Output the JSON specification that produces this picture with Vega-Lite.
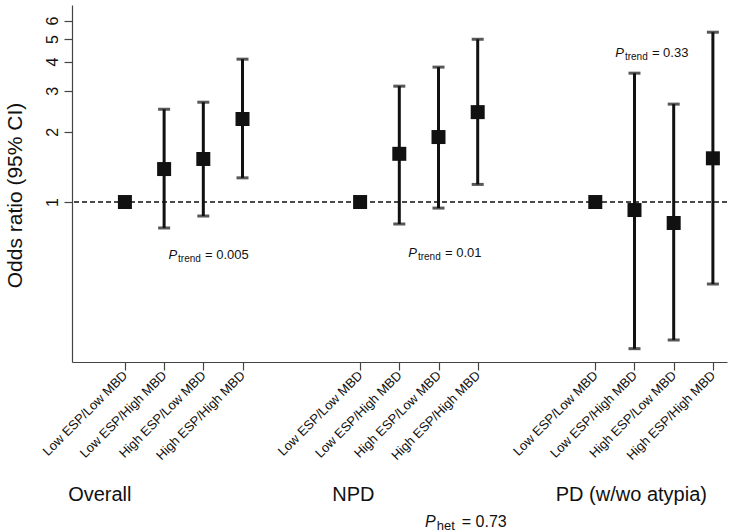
{
  "$schema": "https://vega.github.io/schema/vega-lite/v6.json",
  "width": 655,
  "height": 357,
  "autosize": {"type": "none"},
  "padding": {"left": 72, "top": 5, "right": 3, "bottom": 170},
  "background": "white",
  "config": {
    "view": {"stroke": null},
    "font": "Liberation Sans",
    "text": {"font": "Liberation Sans", "color": "#111"}
  },
  "datasets": {
    "or": [
      {"pos": 0, "group": "Overall", "cat": "Low ESP/Low MBD", "or": 1, "lo": null, "hi": null},
      {"pos": 1, "group": "Overall", "cat": "Low ESP/High MBD", "or": 1.385, "lo": 0.774, "hi": 2.50},
      {"pos": 2, "group": "Overall", "cat": "High ESP/Low MBD", "or": 1.53, "lo": 0.871, "hi": 2.68},
      {"pos": 3, "group": "Overall", "cat": "High ESP/High MBD", "or": 2.27, "lo": 1.27, "hi": 4.10},
      {"pos": 6, "group": "NPD", "cat": "Low ESP/Low MBD", "or": 1, "lo": null, "hi": null},
      {"pos": 7, "group": "NPD", "cat": "Low ESP/High MBD", "or": 1.61, "lo": 0.805, "hi": 3.14},
      {"pos": 8, "group": "NPD", "cat": "High ESP/Low MBD", "or": 1.90, "lo": 0.942, "hi": 3.79},
      {"pos": 9, "group": "NPD", "cat": "High ESP/High MBD", "or": 2.43, "lo": 1.19, "hi": 4.99},
      {"pos": 12, "group": "PD (w/wo atypia)", "cat": "Low ESP/Low MBD", "or": 1, "lo": null, "hi": null},
      {"pos": 13, "group": "PD (w/wo atypia)", "cat": "Low ESP/High MBD", "or": 0.924, "lo": 0.235, "hi": 3.57},
      {"pos": 14, "group": "PD (w/wo atypia)", "cat": "High ESP/Low MBD", "or": 0.813, "lo": 0.256, "hi": 2.63},
      {"pos": 15, "group": "PD (w/wo atypia)", "cat": "High ESP/High MBD", "or": 1.54, "lo": 0.445, "hi": 5.35}
    ],
    "ref": [
      {"ref": 1}
    ],
    "ptrend": [
      {"x": 1.33, "y": 0.569, "p": "P", "sub": "trend", "rest": "= 0.005"},
      {"x": 7.45, "y": 0.581, "p": "P", "sub": "trend", "rest": "= 0.01"},
      {"x": 12.73, "y": 4.19, "p": "P", "sub": "trend", "rest": "= 0.33"}
    ],
    "phet": [
      {"x": 7.93, "y": 0.0403, "p": "P", "sub": "het", "rest": "= 0.73"}
    ],
    "groups": [
      {"x": -0.64, "y": 0.0522, "label": "Overall"},
      {"x": 5.83, "y": 0.0522, "label": "NPD"},
      {"x": 12.92, "y": 0.0522, "label": "PD (w/wo atypia)"}
    ]
  },
  "layer": [
    {
      "data": {"name": "ref"},
      "mark": {"type": "rule", "strokeDash": [5, 3], "strokeWidth": 1.5, "color": "#111"},
      "encoding": {
        "y": {
          "field": "ref",
          "type": "quantitative",
          "scale": {"type": "log", "domain": [0.206, 7], "nice": false},
          "axis": {
            "title": "Odds ratio (95% CI)",
            "titleFontSize": 21,
            "titleFontWeight": "normal",
            "titleColor": "#111",
            "titleX": -51,
            "titleY": 190,
            "titleAlign": "center",
            "titleBaseline": "alphabetic",
            "titleAngle": 270,
            "values": [1, 2, 3, 4, 5, 6],
            "format": "d",
            "grid": false,
            "labelAngle": -90,
            "labelAlign": "center",
            "labelBaseline": "alphabetic",
            "labelPadding": 7,
            "labelFontSize": 16,
            "labelColor": "#111",
            "labelOverlap": false,
            "labelFlush": false,
            "labelBound": false,
            "tickSize": 8,
            "tickColor": "#444",
            "tickWidth": 1.2,
            "domainColor": "#444",
            "domainWidth": 1.2
          }
        }
      }
    },
    {
      "data": {"name": "or"},
      "transform": [{"filter": "datum.lo != null"}],
      "mark": {"type": "rule", "strokeWidth": 3, "color": "#111"},
      "encoding": {
        "x": {
          "field": "pos",
          "type": "quantitative",
          "scale": {"domain": [-1.35, 15.36], "nice": false, "zero": false},
          "axis": {
            "title": null,
            "values": [0, 1, 2, 3, 6, 7, 8, 9, 12, 13, 14, 15],
            "labelExpr": "['Low ESP/Low MBD','Low ESP/High MBD','High ESP/Low MBD','High ESP/High MBD'][datum.value % 6]",
            "grid": false,
            "labelAngle": -45,
            "labelAlign": "right",
            "labelBaseline": "middle",
            "labelFontSize": 13,
            "labelColor": "#111",
            "labelPadding": 3,
            "labelOverlap": false,
            "labelFlush": false,
            "labelBound": false,
            "tickSize": 8,
            "tickColor": "#444",
            "tickWidth": 1.2,
            "domainColor": "#444",
            "domainWidth": 1.2
          }
        },
        "y": {"field": "lo", "type": "quantitative"},
        "y2": {"field": "hi"}
      }
    },
    {
      "data": {"name": "or"},
      "transform": [{"filter": "datum.lo != null"}],
      "mark": {"type": "tick", "orient": "horizontal", "size": 12, "thickness": 3, "color": "#111"},
      "encoding": {
        "x": {"field": "pos", "type": "quantitative"},
        "y": {"field": "lo", "type": "quantitative"}
      }
    },
    {
      "data": {"name": "or"},
      "transform": [{"filter": "datum.hi != null"}],
      "mark": {"type": "tick", "orient": "horizontal", "size": 12, "thickness": 3, "color": "#111"},
      "encoding": {
        "x": {"field": "pos", "type": "quantitative"},
        "y": {"field": "hi", "type": "quantitative"}
      }
    },
    {
      "data": {"name": "or"},
      "mark": {"type": "square", "size": 196, "filled": true, "opacity": 1, "color": "#111"},
      "encoding": {
        "x": {"field": "pos", "type": "quantitative"},
        "y": {"field": "or", "type": "quantitative"}
      }
    },
    {
      "data": {"name": "ptrend"},
      "mark": {"type": "text", "align": "right", "baseline": "alphabetic", "fontSize": 13, "fontStyle": "italic"},
      "encoding": {
        "x": {"field": "x", "type": "quantitative"},
        "y": {"field": "y", "type": "quantitative"},
        "text": {"field": "p"}
      }
    },
    {
      "data": {"name": "ptrend"},
      "mark": {"type": "text", "align": "left", "baseline": "alphabetic", "fontSize": 10, "dx": 1, "dy": 3},
      "encoding": {
        "x": {"field": "x", "type": "quantitative"},
        "y": {"field": "y", "type": "quantitative"},
        "text": {"field": "sub"}
      }
    },
    {
      "data": {"name": "ptrend"},
      "mark": {"type": "text", "align": "left", "baseline": "alphabetic", "fontSize": 13, "dx": 28},
      "encoding": {
        "x": {"field": "x", "type": "quantitative"},
        "y": {"field": "y", "type": "quantitative"},
        "text": {"field": "rest"}
      }
    },
    {
      "data": {"name": "phet"},
      "mark": {"type": "text", "align": "right", "baseline": "alphabetic", "fontSize": 16, "fontStyle": "italic"},
      "encoding": {
        "x": {"field": "x", "type": "quantitative"},
        "y": {"field": "y", "type": "quantitative"},
        "text": {"field": "p"}
      }
    },
    {
      "data": {"name": "phet"},
      "mark": {"type": "text", "align": "left", "baseline": "alphabetic", "fontSize": 13, "dx": 1, "dy": 3},
      "encoding": {
        "x": {"field": "x", "type": "quantitative"},
        "y": {"field": "y", "type": "quantitative"},
        "text": {"field": "sub"}
      }
    },
    {
      "data": {"name": "phet"},
      "mark": {"type": "text", "align": "left", "baseline": "alphabetic", "fontSize": 16, "dx": 26},
      "encoding": {
        "x": {"field": "x", "type": "quantitative"},
        "y": {"field": "y", "type": "quantitative"},
        "text": {"field": "rest"}
      }
    },
    {
      "data": {"name": "groups"},
      "mark": {"type": "text", "align": "center", "baseline": "alphabetic", "fontSize": 20},
      "encoding": {
        "x": {"field": "x", "type": "quantitative"},
        "y": {"field": "y", "type": "quantitative"},
        "text": {"field": "label"}
      }
    }
  ]
}
